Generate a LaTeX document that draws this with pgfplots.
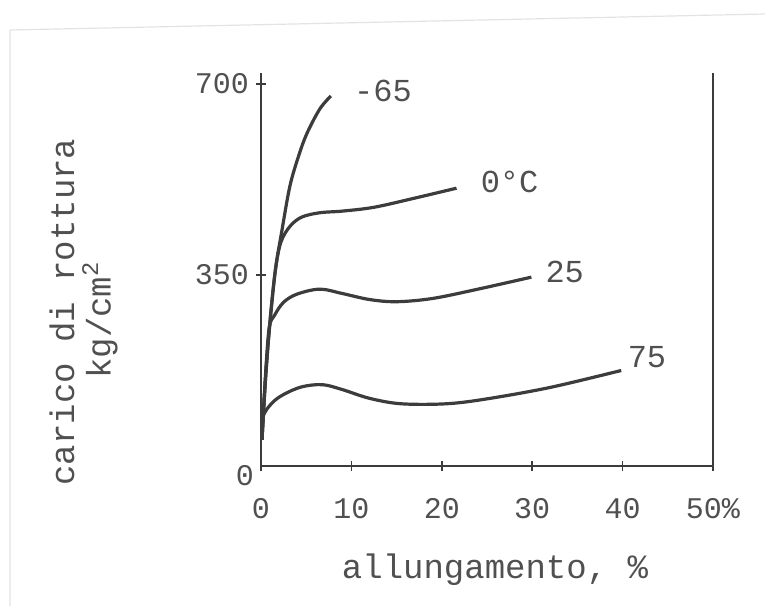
\documentclass[border=0pt]{standalone}
\usepackage{fontspec}
\setmainfont{Liberation Mono}
\usepackage{pgfplots}
\pgfplotsset{compat=1.18}
\definecolor{ink}{RGB}{60,60,60}
\definecolor{txt}{RGB}{80,80,80}
\begin{document}
\begin{tikzpicture}
\path (0,0) rectangle (384pt,303pt);
\draw[gray!22, line width=0.6pt] (5pt,0) -- (5pt,288pt) -- (382.5pt,296pt);
\begin{axis}[
  at={(130.5pt,70pt)}, anchor=south west, scale only axis,
  width=226pt, height=196.5pt,
  xmin=0, xmax=50, ymin=0, ymax=720,
  axis x line=bottom, axis y line=box,
  axis line style={-, draw=ink, line width=1pt},
  xtick={0,10,20,30,40,50}, xticklabels={0,10,20,30,40,50\%},
  ytick={350,700},
  extra y ticks={0},
  extra y tick style={major tick length=0pt, yticklabel style={yshift=-5pt}},
  ytick pos=left, xtick pos=bottom,
  tick align=center, major tick length=5pt,
  tick style={draw=ink, line width=0.8pt},
  ticklabel style={font=\fontsize{15}{15}\selectfont, text=txt},
  /pgf/number format/assume math mode=true,
  xticklabel style={yshift=-10pt},
  clip=false,
]
% -65
\addplot[ink, line width=1.6pt, smooth, tension=0.55] coordinates {
 (0.11,48) (0.5,160) (1.0,265) (1.6,360) (2.3,430) (3.2,513)
 (4.2,570) (5.1,610) (6.5,654) (7.73,678)};
% 0 C
\addplot[ink, line width=1.6pt, smooth, tension=0.55] coordinates {
 (0.11,48) (0.5,160) (1.0,265) (1.6,360) (2.2,410) (3.2,439)
 (4.5,456) (6.5,464) (9,467) (12.5,474) (16.8,490) (21.63,509)};
% 25
\addplot[ink, line width=1.6pt, smooth, tension=0.55] coordinates {
 (0.11,48) (0.4,140) (0.88,250) (1.5,276) (2.5,300) (4,315)
 (6.5,324) (9,316) (12,305) (15,301) (19,307) (24,324) (29.91,346)};
% 75
\addplot[ink, line width=1.6pt, smooth, tension=0.55] coordinates {
 (0.11,48) (0.22,90) (1.2,115) (2.5,131) (4.5,145) (6.8,149)
 (9,140) (12,124) (15.5,114) (20.5,114) (25,123) (32,144) (39.85,175)};
\node[font=\fontsize{16}{16}\selectfont, text=txt] at (axis cs:13.5,688) {-65};
\node[font=\fontsize{16}{16}\selectfont, text=txt] at (axis cs:27.5,520) {0°C};
\node[font=\fontsize{16}{16}\selectfont, text=txt] at (axis cs:33.6,355) {25};
\node[font=\fontsize{16}{16}\selectfont, text=txt] at (axis cs:42.7,199) {75};
\end{axis}
\node[rotate=90, font=\fontsize{17}{17}\selectfont, text=txt] at (31pt,147pt) {carico di rottura};
\node[rotate=90, font=\fontsize{17}{17}\selectfont, text=txt] at (50pt,143pt) {kg/cm\textsuperscript{2}};
\node[font=\fontsize{17}{17}\selectfont, text=txt] at (247.5pt,18pt) {allungamento, \%};
\end{tikzpicture}
\end{document}
